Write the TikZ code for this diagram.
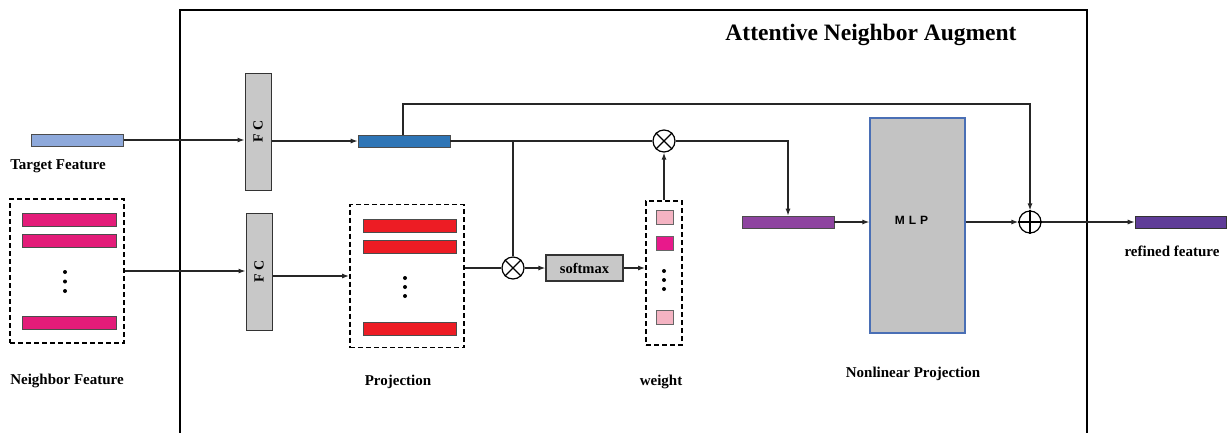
\documentclass[tikz,border=0pt]{standalone}
\usepackage{fontspec}
\setmainfont{Liberation Serif}
\newfontfamily\mlpfont{Liberation Sans}
\usetikzlibrary{arrows.meta}
\definecolor{tgtblue}{HTML}{8EA9DB}
\definecolor{projblue}{HTML}{2E75B6}
\definecolor{nbmag}{HTML}{E31C79}
\definecolor{projred}{HTML}{ED1C24}
\definecolor{wpink}{HTML}{F4B3C2}
\definecolor{wmag}{HTML}{E8198B}
\definecolor{fcgray}{HTML}{C8C8C8}
\definecolor{mlpgray}{HTML}{C3C3C3}
\definecolor{mlpblue}{HTML}{4A6FB5}
\definecolor{midpurple}{HTML}{8E44A0}
\definecolor{outpurple}{HTML}{5F3C98}
\begin{document}
\begin{tikzpicture}[x=1pt,y=-1pt,
  conn/.style={draw=black!85, line width=1.2pt, -{Latex[length=7pt,width=5pt]}},
  wire/.style={draw=black!85, line width=1.2pt},
  bar/.style={draw=black!70, line width=0.6pt, inner sep=0, minimum width=92pt, minimum height=12pt},
  dbox/.style={draw, dash pattern=on 5pt off 3pt, line width=1.8pt, inner sep=0},
  fc/.style={draw=black!80, fill=fcgray, line width=1pt, inner sep=0, minimum width=26pt, minimum height=117pt},
  fctext/.style={rotate=90, font=\bfseries\fontsize{14}{16}\selectfont},
  lab/.style={font=\bfseries\fontsize{15}{17}\selectfont},
  op/.style={circle, draw, line width=1.2pt, minimum size=22pt, inner sep=0},
  sq/.style={draw=black!60, line width=0.6pt, inner sep=0, minimum width=17pt, minimum height=14pt},
  dotc/.style={circle, fill=black, inner sep=0, minimum size=4pt}]
\clip (0,0) rectangle (1231,432);
% outer frame
\draw[line width=2.5pt] (180,445) -- (180,10) -- (1087,10) -- (1087,445);
\node[font=\bfseries\fontsize{23.5}{27}\selectfont] (title) at (871,35) {Attentive Neighbor Augment};

% target feature
\node[bar, fill=tgtblue] (tgt) at (77.5,140) {};
\node[lab] (tgtlab) at (58,166) {Target Feature};

% neighbor feature
\node[dbox, minimum width=114pt, minimum height=144pt] (nbox) at (67,271) {};
\node[bar, fill=nbmag, minimum width=94pt, minimum height=13pt] (nb1) at (69,219.5) {};
\node[bar, fill=nbmag, minimum width=94pt, minimum height=13pt] (nb2) at (69,241) {};
\node[bar, fill=nbmag, minimum width=94pt, minimum height=13pt] (nb3) at (69,323) {};
\node[dotc] (nd1) at (65,272) {};
\node[dotc] (nd2) at (65,281.5) {};
\node[dotc] (nd3) at (65,291) {};
\node[lab] (nlab) at (67,381) {Neighbor Feature};

% FC layers
\node[fc] (fc1) at (258,131.5) {};
\node[fctext] (fc1t) at (fc1) {F C};
\node[fc] (fc2) at (259,271.5) {};
\node[fctext] (fc2t) at (fc2) {F C};

% projected target
\node[bar, fill=projblue] (blue) at (404,141) {};

% projection box
\node[dbox, minimum width=114pt, minimum height=143pt] (proj) at (407,276) {};
\node[bar, fill=projred, minimum width=93pt, minimum height=13pt] (pr1) at (409.5,225.5) {};
\node[bar, fill=projred, minimum width=93pt, minimum height=13pt] (pr2) at (409.5,246.5) {};
\node[bar, fill=projred, minimum width=93pt, minimum height=13pt] (pr3) at (409.5,328.5) {};
\node[dotc] (pd1) at (405,278) {};
\node[dotc] (pd2) at (405,287) {};
\node[dotc] (pd3) at (405,296) {};
\node[lab] (projlab) at (398,382) {Projection};

% operators
\node[op] (o1) at (664,141) {};
\draw[line width=1.2pt] (o1.45) -- (o1.225) (o1.135) -- (o1.315);
\node[op] (o2) at (513,268) {};
\draw[line width=1.2pt] (o2.45) -- (o2.225) (o2.135) -- (o2.315);
\node[op] (op) at (1030,222) {};
\draw[line width=1.2pt] (op.north) -- (op.south) (op.west) -- (op.east);

% softmax
\node[draw=black!80, fill=fcgray, line width=1.2pt, inner sep=0, minimum width=77pt, minimum height=26pt, font=\bfseries\fontsize{14.5}{16}\selectfont] (soft) at (584.5,268) {softmax};

% weight box
\node[dbox, minimum width=36pt, minimum height=144pt] (wbox) at (664,273) {};
\node[sq, fill=wpink] (w1) at (664.5,217) {};
\node[sq, fill=wmag] (w2) at (664.5,243.5) {};
\node[sq, fill=wpink] (w3) at (664.5,317) {};
\node[dotc] (wd1) at (664,271) {};
\node[dotc] (wd2) at (664,280) {};
\node[dotc] (wd3) at (664,289) {};
\node[lab] (wlab) at (661,382) {weight};

% weighted sum
\node[bar, fill=midpurple] (purple) at (788,222) {};

% MLP
\node[draw=mlpblue, fill=mlpgray, line width=1.2pt, inner sep=0, minimum width=95pt, minimum height=215pt] (mlp) at (917.5,225.5) {};
\node[font=\mlpfont\bfseries\fontsize{12}{14}\selectfont] (mlpt) at (911.5,220) {M\,\,L\,\,P};
\node[lab] (nlplab) at (913,374) {Nonlinear Projection};

% refined feature
\node[bar, fill=outpurple, draw=black!80, minimum width=91pt] (refined) at (1180.5,222) {};
\node[lab] (reflab) at (1172,251) {refined feature};

% connectors
\draw[conn] (tgt.east) -- (tgt.east -| fc1.west);
\draw[conn] (nbox.east) -- (nbox.east -| fc2.west);
\draw[conn] (fc1.east |- blue) -- (blue.west);
\draw[conn] (fc2.east |- proj) -- (proj.west);
\coordinate (skip) at (403,104);
\draw[conn] (blue.north -| skip) -- (skip) -| (op.north);
\draw[wire] (blue.east) -- (o1.west);
\coordinate (br) at (513,141);
\draw[wire] (br) -- (o2.north);
\draw[wire] (proj.east |- o2) -- (o2.west);
\draw[conn] (o2.east) -- (soft.west);
\draw[conn] (soft.east) -- (soft.east -| wbox.west);
\draw[conn] (wbox.north) -- (o1.south);
\draw[conn] (o1.east) -| (purple.north);
\draw[conn] (purple.east) -- (purple.east -| mlp.west);
\draw[conn] (mlp.east |- op) -- (op.west);
\draw[conn] (op.east) -- (refined.west);
\end{tikzpicture}
\end{document}
